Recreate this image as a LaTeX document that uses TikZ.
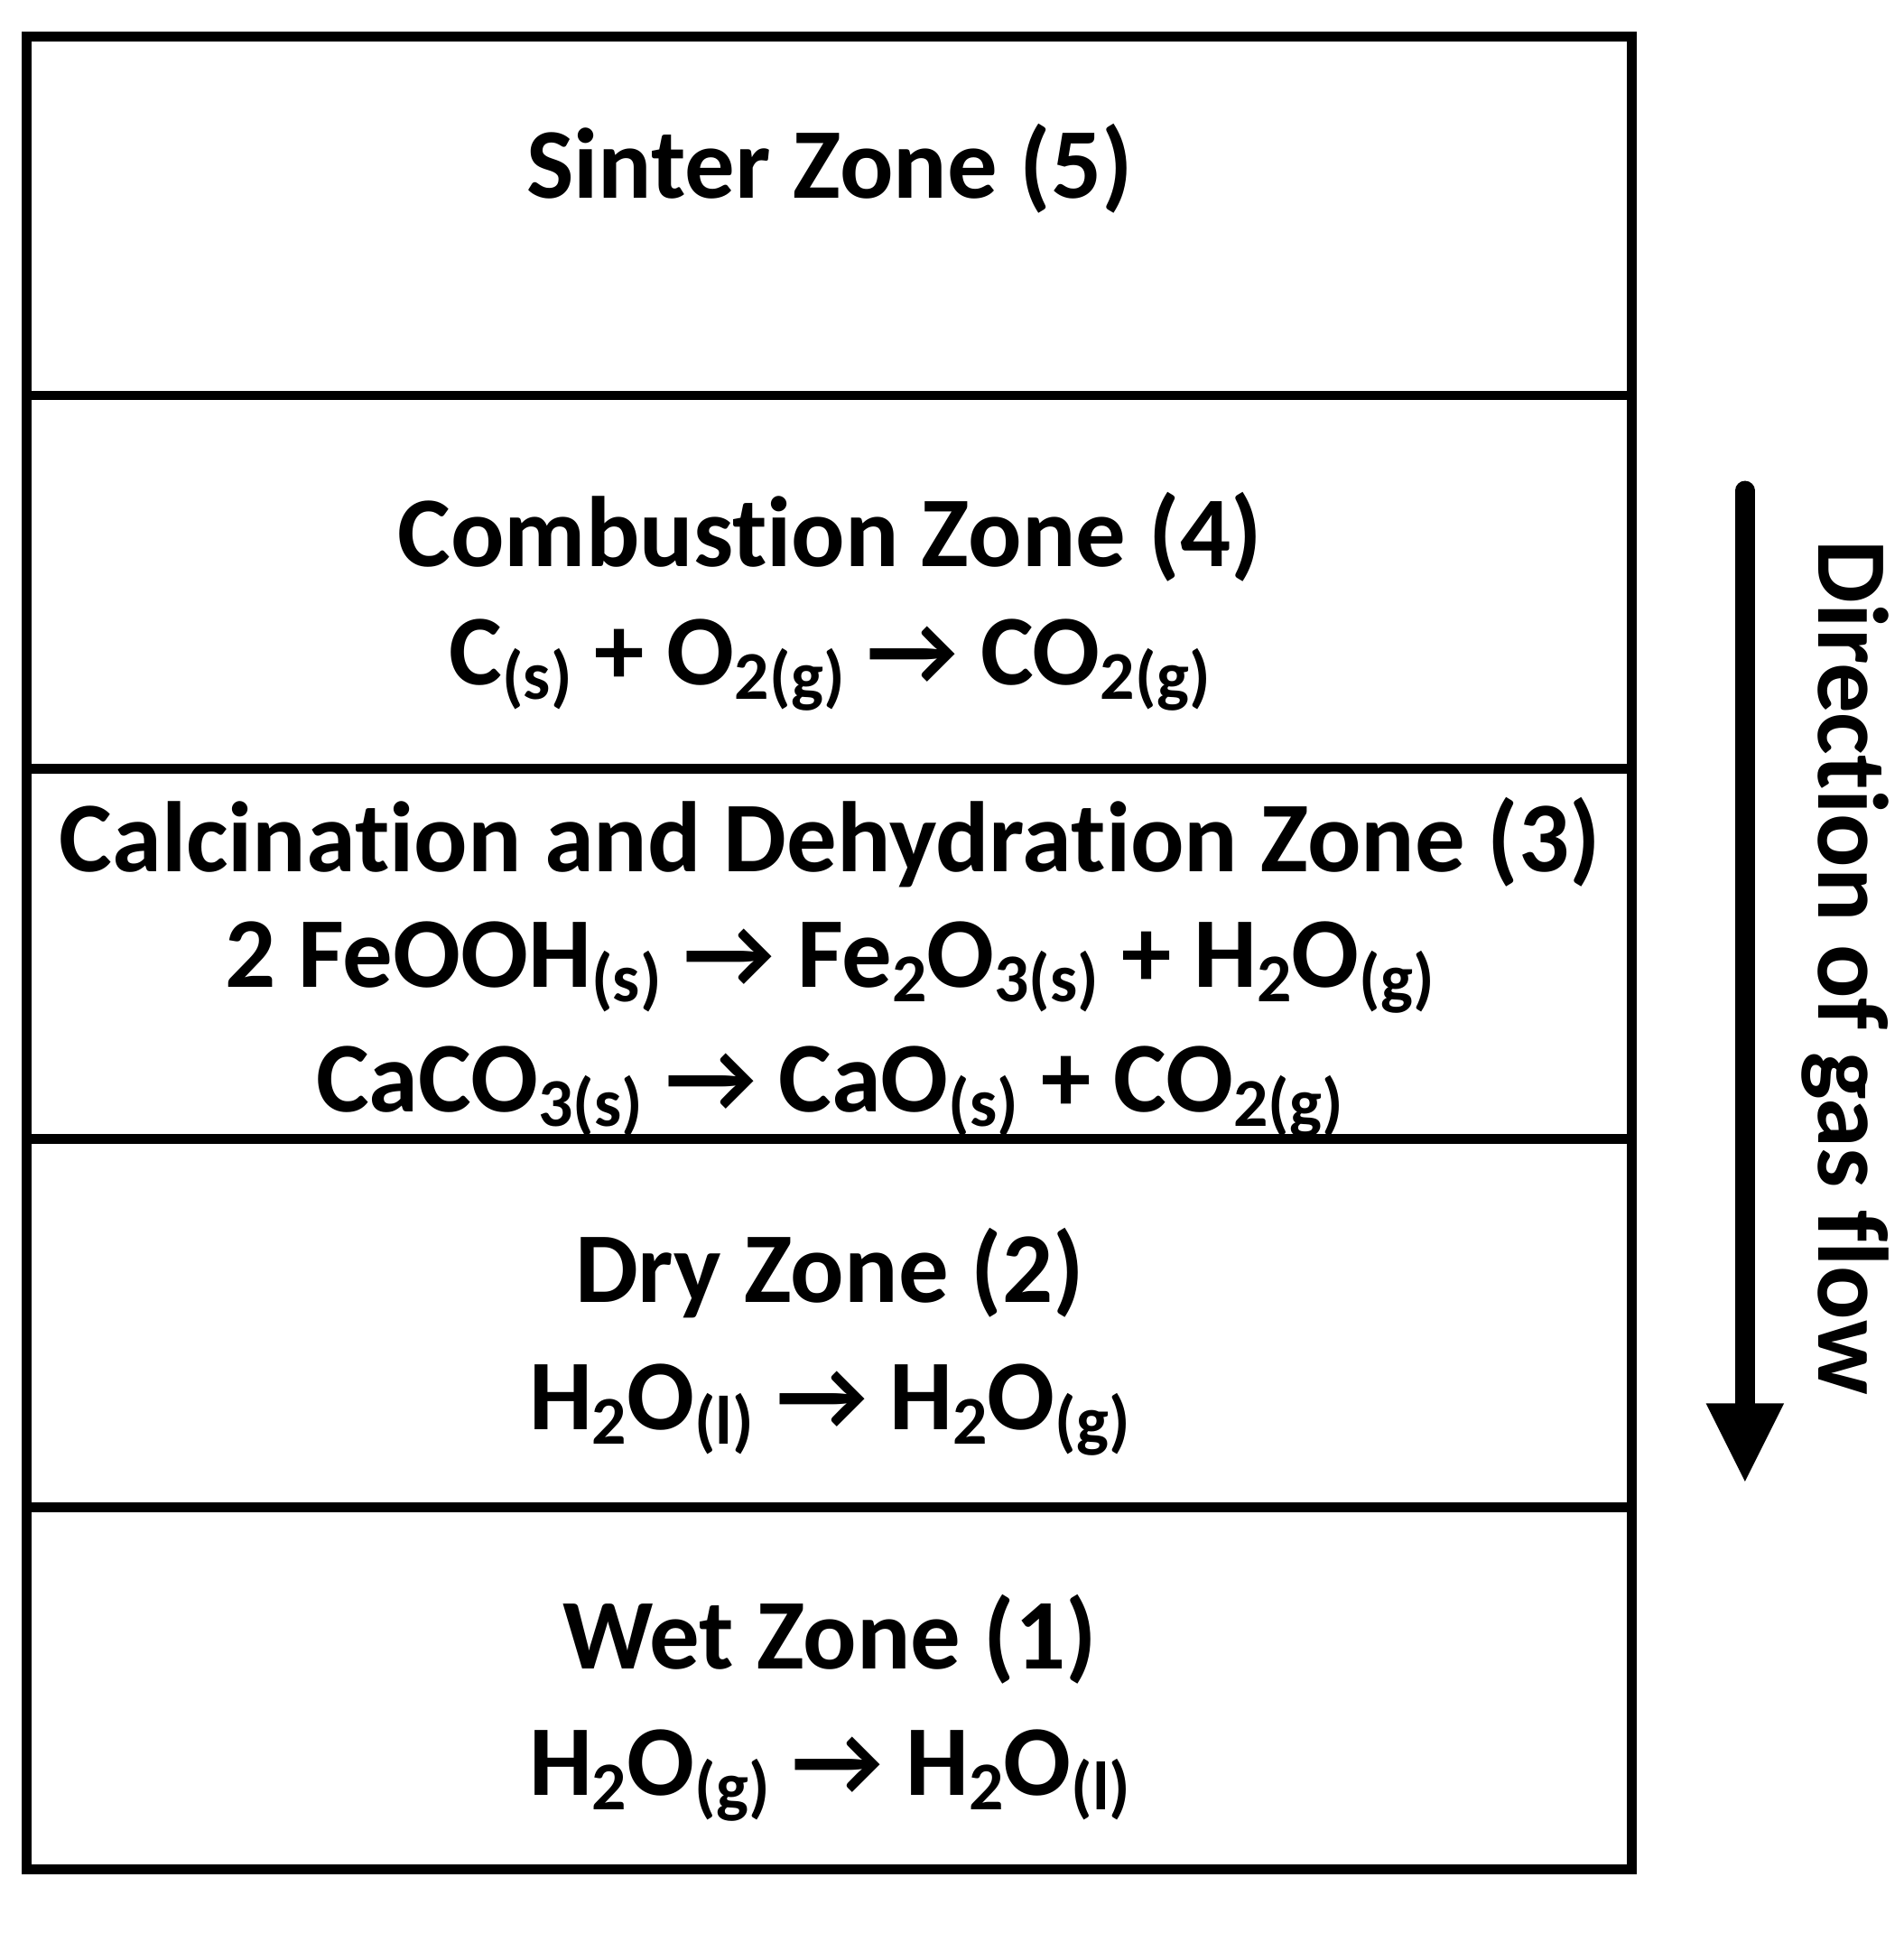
\documentclass[tikz,border=0pt]{standalone}
\usepackage{fontspec}
\setmainfont{Carlito}[Ligatures={NoCommon}]
\newcommand{\lo}[1]{\raisebox{-0.3ex}{\fontsize{56}{56}\selectfont #1}}
\begin{document}
\begin{tikzpicture}[x=1pt,y=-1pt,
  lbl/.style={font=\bfseries\fontsize{82}{84}\selectfont,inner sep=0pt,anchor=center},
  border/.style={line width=8pt}]
\useasboundingbox (0,0) rectangle (1560,1584);
\draw[border] (22,30) rectangle (1337,1532);
\foreach \y in {324,630,933,1235} \draw[border] (22,\y) -- (1337,\y);
\node[lbl] (t5) at (680,138) {Sinter Zone (5)};
\node[lbl] (t4) at (680,440) {Combustion Zone (4)};
\node[lbl] (e4) at (680,545) {C\lo{(s)} + O\lo{2(g)} → CO\lo{2(g)}};
\node[lbl] (t3) at (680,690) {Calcination and Dehydration Zone (3)};
\node[lbl] (e3a) at (680,793) {2 FeOOH\lo{(s)} → Fe\lo{2}O\lo{3(s)} + H\lo{2}O\lo{(g)}};
\node[lbl] (e3b) at (680,895) {CaCO\lo{3(s)} → CaO\lo{(s)} + CO\lo{2(g)}};
\node[lbl] (t2) at (680,1043) {Dry Zone (2)};
\node[lbl] (e2) at (680,1155) {H\lo{2}O\lo{(l)} → H\lo{2}O\lo{(g)}};
\node[lbl] (t1) at (680,1343) {Wet Zone (1)};
\node[lbl] (e1) at (680,1455) {H\lo{2}O\lo{(g)} → H\lo{2}O\lo{(l)}};
\coordinate (as) at (1430,402);
\coordinate (ae) at (1430,1152);
\draw[line width=16pt,line cap=round] (as) -- (ae);
\fill (1398,1150) -- (1462,1150) -- (1430,1214) -- cycle;
\node[lbl,rotate=-90] (dir) at (1512,793) {Direction of gas flow};
\end{tikzpicture}
\end{document}
